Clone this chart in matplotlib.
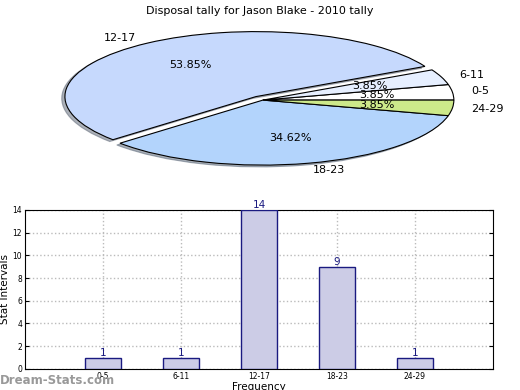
import matplotlib
matplotlib.use("Agg")
import matplotlib.pyplot as plt

# data
categories = ["0-5", "6-11", "12-17", "18-23", "24-29"]
counts = [1, 1, 14, 9, 1]
pie_colors = ["#ffffff", "#e6efff", "#c6d9fd", "#b3d4fc", "#cde98a"]
explode = [0, 0, 0.065, 0, 0]
title = "Disposal tally for Jason Blake - 2010 tally"

fig = plt.figure(figsize=(5.2, 3.9), dpi=100)

# pie on top, stretched into an ellipse
ax1 = fig.add_axes([0.0466, 0.535, 0.918, 0.4167])
wedges, texts, autotexts = ax1.pie(counts, labels=categories, colors=pie_colors,
                                   explode=explode, startangle=0,
                                   shadow=dict(ox=-0.012, oy=-0.02, shade=0.55),
                                   autopct="%.2f%%", pctdistance=0.6, labeldistance=1.1,
                                   wedgeprops=dict(edgecolor="black", linewidth=0.8),
                                   textprops=dict(fontsize=8))
ax1.set_aspect("auto")
ax1.set_xlim(-1.25, 1.25)
ax1.set_ylim(-1.25, 1.25)
fig.text(0.5, 0.972, title, ha="center", va="center", fontsize=8)

# bar chart below
ax2 = fig.add_axes([0.048, 0.054, 0.9, 0.408])
x = range(len(categories))
ax2.bar(x, counts, width=0.47, color="#ccccE6", edgecolor="#1a1a80", linewidth=1, zorder=3)
for xi, v in zip(x, counts):
    ax2.text(xi, v, str(v), ha="center", va="bottom", fontsize=7.5, color="#1a1a80", zorder=4)
ax2.set_xlim(-1, 5)
ax2.set_ylim(0, 14)
ax2.set_yticks(range(0, 15, 2))
ax2.set_xticks(list(x))
ax2.set_xticklabels(categories)
ax2.tick_params(labelsize=5.5, direction="in", right=True, top=False, length=3, pad=2)
ax2.grid(True, linestyle=":", color="#bbbbbb", linewidth=1)
ax2.set_axisbelow(True)
ax2.set_ylabel("Stat Intervals", fontsize=7.5, labelpad=2)
ax2.set_xlabel("Frequency", fontsize=7.5, labelpad=1)

fig.text(0.0, 0.025, "Dream-Stats.com", fontsize=8.5, color="#999999",
         fontweight="bold", ha="left", va="center")

fig.savefig("out.png", dpi=100)
